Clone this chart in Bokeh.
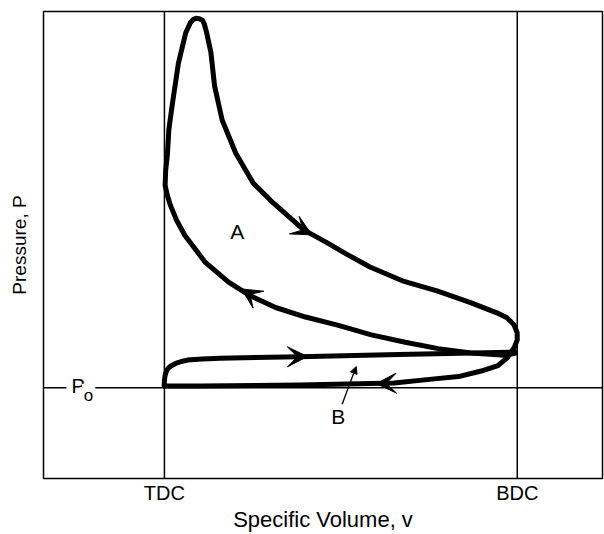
from bokeh.plotting import figure
from bokeh.models import Range1d, Span, Label, Arrow, VeeHead, NormalHead, FixedTicker
from bokeh.embed import file_html
from bokeh.resources import INLINE

# ---- data (specific volume v, pressure P; arbitrary units) ----
v_max = 564
p_max = 461
tick_positions = [122, 478]          # TDC, BDC
tick_labels = ["TDC", "BDC"]
p_atm = 89.5                          # Po

# intake stroke (upper line of loop B), TDC -> BDC
intake_v = [121.8, 122.0, 122.6, 123.8, 125.5, 128.8, 133.4, 139.0, 145.3, 160.0, 178.3, 258.3, 358.3, 476.3]
intake_p = [91.4, 96.5, 101.4, 105.3, 108.5, 111.4, 113.6, 115.5, 116.9, 117.9, 118.6, 120.3, 122.4, 124.8]

# compression stroke, BDC -> TDC -> peak
comp_v = [476.3, 465.3, 431.3, 398.2, 365.0, 330.8, 297.6, 264.4, 234.2, 207.0,
          186.7, 163.3, 142.7, 134.4, 128.1, 124.9, 122.7, 123.3, 125.0, 126.5,
          130.0, 136.1, 143.5, 148.3, 151.2, 154.2]
comp_p = [123.8, 121.6, 123.9, 128.2, 134.5, 141.8, 151.1, 159.4, 168.8, 181.2,
          193.8, 213.3, 239.9, 254.7, 269.6, 279.5, 289.5, 304.5, 319.6, 344.6,
          369.7, 409.8, 440.0, 450.1, 453.2, 454.2]

# expansion + exhaust, peak -> BDC -> TDC
exp_v = [154.2, 157.2, 160.3, 162.3, 164.5, 168.9, 172.6, 180.3, 194.0, 211.7,
         232.1, 262.6, 285.9, 306.2, 329.4, 363.8, 397.0, 430.2, 457.4, 467.6,
         474.7, 477.9, 478.0, 475.2, 468.4, 458.5, 441.6, 418.7, 391.8, 353.9,
         258.9, 158.8, 121.8]
exp_p = [454.2, 453.8, 452.4, 448.4, 440.4, 420.5, 387.6, 353.7, 321.0, 291.4,
         271.8, 245.4, 232.9, 221.3, 208.8, 194.5, 185.2, 173.9, 163.5, 158.7,
         151.8, 143.9, 136.9, 129.8, 119.7, 111.5, 106.1, 100.6, 98.1, 94.3,
         92.3, 91.2, 91.4]

# direction arrows on the cycle (start -> tip)
arrow_v_start = [259.0, 209.8, 250.0, 350.0]
arrow_p_start = [246.9, 180.9, 120.2, 94.0]
arrow_v_end = [270.7, 199.8, 266.3, 335.8]
arrow_p_end = [240.6, 187.1, 120.4, 93.7]

# labels
label_texts = ["A", "B"]
label_v = [195.6, 297.5]
label_p = [244.0, 61.0]
pointer_v = [301.3, 315.5]            # B pointer tail, tip
pointer_p = [73.2, 110.5]
po_v = [34.9, 45.5]                   # "P", "o"
po_p = [91.1, 82.3]

FONT = "Liberation Sans"

p = figure(width=604, height=534, x_range=Range1d(0, v_max), y_range=Range1d(0, p_max),
           output_backend="svg", toolbar_location=None,
           min_border_left=43, min_border_right=2, min_border_top=11, min_border_bottom=0)
p.grid.visible = False
p.outline_line_color = "black"
p.outline_line_width = 1.5
p.background_fill_color = "white"
p.border_fill_color = "white"

# x axis
p.xaxis.ticker = FixedTicker(ticks=tick_positions)
p.xaxis.major_label_overrides = {t: l for t, l in zip(tick_positions, tick_labels)}
p.xaxis.major_tick_line_color = None
p.xaxis.minor_tick_line_color = None
p.xaxis.axis_line_color = None
p.xaxis.major_tick_out = 0
p.xaxis.major_label_standoff = 3
p.xaxis.major_label_text_font = FONT
p.xaxis.major_label_text_font_size = "20px"
p.xaxis.major_label_text_color = "black"
p.xaxis.axis_label = "Specific Volume, v"
p.xaxis.axis_label_text_font = FONT
p.xaxis.axis_label_text_font_size = "22px"
p.xaxis.axis_label_text_font_style = "normal"
p.xaxis.axis_label_text_color = "black"
p.xaxis.axis_label_standoff = 0

# y axis
p.yaxis.ticker = FixedTicker(ticks=[])
p.yaxis.major_tick_line_color = None
p.yaxis.minor_tick_line_color = None
p.yaxis.axis_line_color = None
p.yaxis.major_tick_out = 0
p.yaxis.major_label_standoff = 0
p.yaxis.axis_label = "Pressure, P"
p.yaxis.axis_label_text_font = FONT
p.yaxis.axis_label_text_font_size = "19px"
p.yaxis.axis_label_text_font_style = "normal"
p.yaxis.axis_label_text_color = "black"
p.yaxis.axis_label_standoff = 14

# TDC / BDC verticals and Po line
for t in tick_positions:
    p.add_layout(Span(location=t, dimension="height", line_color="black", line_width=1.5))
p.add_layout(Span(location=p_atm, dimension="width", line_color="black", line_width=1.5))

# cycle
for vx, py in [(intake_v, intake_p), (comp_v, comp_p), (exp_v, exp_p)]:
    p.line(vx, py, line_color="black", line_width=5, line_join="round", line_cap="round")

for i in range(len(arrow_v_start)):
    p.add_layout(Arrow(end=VeeHead(size=20, fill_color="black", line_color="black"),
                       x_start=arrow_v_start[i], y_start=arrow_p_start[i],
                       x_end=arrow_v_end[i], y_end=arrow_p_end[i],
                       line_alpha=0))

# B pointer
p.add_layout(Arrow(end=NormalHead(size=7, fill_color="black", line_color="black", line_width=1),
                   x_start=pointer_v[0], y_start=pointer_p[0],
                   x_end=pointer_v[1], y_end=pointer_p[1],
                   line_color="black", line_width=1.3))

for txt, lx, ly in zip(label_texts, label_v, label_p):
    p.add_layout(Label(x=lx, y=ly, text=txt, text_align="center", text_baseline="middle",
                       text_font=FONT, text_font_size="21px", text_color="black"))

# Po label with white background to break the line
p.add_layout(Label(x=po_v[0], y=po_p[0], text="P", text_align="center", text_baseline="middle",
                   text_font=FONT, text_font_size="20px", text_color="black",
                   background_fill_color="white", padding=5))
p.add_layout(Label(x=po_v[1], y=po_p[1], text="o", text_align="center", text_baseline="middle",
                   text_font=FONT, text_font_size="17px", text_color="black",
                   background_fill_color="white", padding=2))

open("out.html", "w").write(file_html(p, INLINE))
